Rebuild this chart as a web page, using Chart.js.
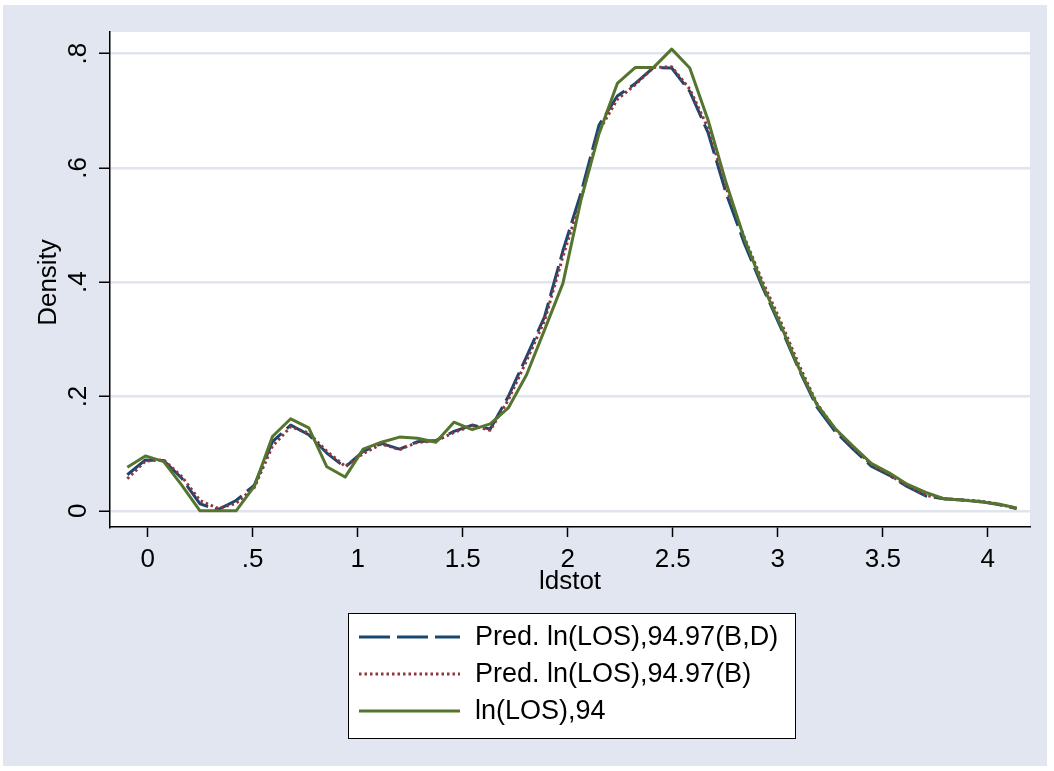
<!DOCTYPE html>
<html>
<head>
<meta charset="utf-8">
<script src="https://cdn.jsdelivr.net/npm/chart.js@4"></script>
<style>
  html, body { margin: 0; padding: 0; background: #fff; }
  canvas { display: block; }
</style>
</head>
<body>
<canvas id="density-canvas" width="1054" height="771"></canvas>
<script>
// ========== Data
let ldstot = [-0.097, -0.011, 0.076, 0.162, 0.249, 0.335, 0.421, 0.508, 0.594, 0.681,
    0.767, 0.853, 0.940, 1.026, 1.113, 1.199, 1.285, 1.372, 1.458, 1.545,
    1.631, 1.717, 1.804, 1.890, 1.977, 2.063, 2.149, 2.236, 2.322, 2.409,
    2.495, 2.581, 2.668, 2.754, 2.841, 2.927, 3.013, 3.100, 3.186, 3.273,
    3.359, 3.445, 3.532, 3.618, 3.705, 3.791, 3.877, 3.964, 4.050, 4.137];

let predBD = [0.063, 0.089, 0.088, 0.057, 0.012, 0.002, 0.018, 0.045, 0.121, 0.150,
    0.133, 0.101, 0.076, 0.104, 0.118, 0.108, 0.121, 0.123, 0.139, 0.150,
    0.143, 0.200, 0.270, 0.340, 0.455, 0.556, 0.675, 0.726, 0.748, 0.776,
    0.775, 0.734, 0.662, 0.556, 0.468, 0.392, 0.322, 0.248, 0.182, 0.139,
    0.108, 0.078, 0.062, 0.042, 0.026, 0.021, 0.019, 0.016, 0.011, 0.004];

let predB = [0.056, 0.087, 0.089, 0.060, 0.018, 0.004, 0.013, 0.041, 0.113, 0.147,
    0.136, 0.104, 0.078, 0.100, 0.117, 0.107, 0.120, 0.122, 0.137, 0.149,
    0.141, 0.194, 0.263, 0.333, 0.445, 0.545, 0.665, 0.720, 0.746, 0.776,
    0.777, 0.738, 0.670, 0.566, 0.478, 0.402, 0.332, 0.256, 0.188, 0.143,
    0.111, 0.081, 0.063, 0.043, 0.027, 0.021, 0.019, 0.017, 0.012, 0.004];

let observed94 = [0.076, 0.096, 0.086, 0.045, 0.000, 0.000, 0.000, 0.043, 0.130, 0.161,
    0.145, 0.077, 0.059, 0.108, 0.120, 0.129, 0.127, 0.120, 0.155, 0.142,
    0.152, 0.180, 0.238, 0.317, 0.398, 0.544, 0.660, 0.748, 0.776, 0.776,
    0.808, 0.775, 0.684, 0.574, 0.476, 0.396, 0.326, 0.250, 0.186, 0.144,
    0.113, 0.083, 0.066, 0.046, 0.032, 0.021, 0.019, 0.016, 0.012, 0.005];

let seriesLabels = ['Pred. ln(LOS),94.97(B,D)', 'Pred. ln(LOS),94.97(B)', 'ln(LOS),94'];

let xTicks = [0, 0.5, 1, 1.5, 2, 2.5, 3, 3.5, 4];
let xTickLabels = ['0', '.5', '1', '1.5', '2', '2.5', '3', '3.5', '4'];
let yTicks = [0, 0.2, 0.4, 0.6, 0.8];
let yTickLabels = ['0', '.2', '.4', '.6', '.8'];

let xTitle = 'ldstot';
let yTitle = 'Density';

// ========== Colors
let navyColor = '#1A476F';
let maroonColor = '#90353B';
let greenColor = '#55752F';
let outerColor = '#E1E6F0';
let gridColor = '#DFE4EF';
let fontFamily = '"Liberation Sans", Arial, Helvetica, sans-serif';

function toPoints(ys) {
    return ldstot.map((x, i) => ({ x: x, y: ys[i] }));
}

// @ ========== Background, rotated y labels, axis titles, legend
let stataPlugin = {
    id: 'stataLook',
    beforeDraw(chart) {
        let ctx = chart.ctx;
        let area = chart.chartArea;
        ctx.save();
        ctx.fillStyle = '#FFFFFF';
        ctx.fillRect(0, 0, chart.width, chart.height);
        ctx.fillStyle = outerColor;
        ctx.fillRect(3, 5, 1044, 761);
        ctx.fillStyle = '#FFFFFF';
        ctx.fillRect(area.left, area.top, area.right - area.left, area.bottom - area.top);
        ctx.restore();
    },
    afterDraw(chart) {
        let ctx = chart.ctx;
        let area = chart.chartArea;
        let yScale = chart.scales.y;
        ctx.save();
        ctx.fillStyle = '#000';
        ctx.font = '26px ' + fontFamily;
        ctx.textAlign = 'center';
        ctx.textBaseline = 'middle';

        // y tick labels, vertical like Stata
        yTicks.forEach((v, i) => {
            ctx.save();
            ctx.translate(79, yScale.getPixelForValue(v));
            ctx.rotate(-Math.PI / 2);
            ctx.fillText(yTickLabels[i], 0, 0);
            ctx.restore();
        });

        // axis titles
        ctx.save();
        ctx.translate(49, (area.top + area.bottom) / 2 + 3);
        ctx.rotate(-Math.PI / 2);
        ctx.fillText(yTitle, 0, 0);
        ctx.restore();
        ctx.fillText(xTitle, (area.left + area.right) / 2, 582);

        // legend box
        ctx.fillStyle = '#FFFFFF';
        ctx.fillRect(348.5, 613.5, 447, 125);
        ctx.strokeStyle = '#000';
        ctx.lineWidth = 1;
        ctx.strokeRect(348.5, 613.5, 447, 125);

        ctx.font = '27px ' + fontFamily;
        let rowY = [637, 674, 711];
        chart.data.datasets.forEach((ds, i) => {
            ctx.beginPath();
            ctx.strokeStyle = ds.borderColor;
            ctx.lineWidth = ds.borderWidth;
            ctx.setLineDash(ds.borderDash || []);
            ctx.moveTo(359, rowY[i]);
            ctx.lineTo(460, rowY[i]);
            ctx.stroke();
            ctx.setLineDash([]);
            ctx.fillStyle = '#000';
            ctx.textAlign = 'left';
            ctx.fillText(ds.label, 475, rowY[i] + 1);
        });
        ctx.restore();
    }
};

// @ ========== Density chart
function renderDensityChart() {
    let canvas = document.getElementById('density-canvas');
    let chart = new Chart(canvas, {
        type: 'line',
        data: {
            datasets: [
                {
                    label: seriesLabels[0],
                    data: toPoints(predBD),
                    borderColor: navyColor,
                    borderWidth: 3,
                    borderDash: [31, 7],
                    order: 3
                },
                {
                    label: seriesLabels[1],
                    data: toPoints(predB),
                    borderColor: maroonColor,
                    borderWidth: 3,
                    borderDash: [2.5, 3],
                    order: 2
                },
                {
                    label: seriesLabels[2],
                    data: toPoints(observed94),
                    borderColor: greenColor,
                    borderWidth: 3,
                    order: 1
                }
            ]
        },
        options: {
            responsive: false,
            animation: false,
            elements: {
                point: { radius: 0 },
                line: { tension: 0, fill: false, borderJoinStyle: 'round' }
            },
            layout: { padding: { top: 32, right: 24, bottom: 0, left: 0 } },
            plugins: {
                legend: { display: false },
                tooltip: { enabled: false }
            },
            scales: {
                x: {
                    type: 'linear',
                    min: -0.1795,
                    max: 4.201,
                    afterBuildTicks: (axis) => { axis.ticks = xTicks.map(v => ({ value: v })); },
                    afterFit: (axis) => { axis.height = 244; },
                    ticks: {
                        autoSkip: false,
                        maxRotation: 0,
                        color: '#000',
                        padding: 7,
                        font: { family: fontFamily, size: 26 },
                        callback: (v) => xTickLabels[xTicks.indexOf(v)]
                    },
                    grid: {
                        drawOnChartArea: false,
                        tickLength: 10,
                        tickColor: '#000',
                        tickWidth: 1.5
                    },
                    border: { color: '#000', width: 1.5 }
                },
                y: {
                    min: -0.0284,
                    max: 0.838,
                    afterBuildTicks: (axis) => { axis.ticks = yTicks.map(v => ({ value: v })); },
                    afterFit: (axis) => { axis.width = 110; },
                    ticks: { display: false },
                    grid: {
                        color: gridColor,
                        lineWidth: 2.5,
                        tickLength: 11,
                        tickColor: '#000',
                        tickWidth: 1.5
                    },
                    border: { color: '#000', width: 1.5 }
                }
            }
        },
        plugins: [stataPlugin]
    });
    return chart;
}

renderDensityChart();
</script>
</body>
</html>
